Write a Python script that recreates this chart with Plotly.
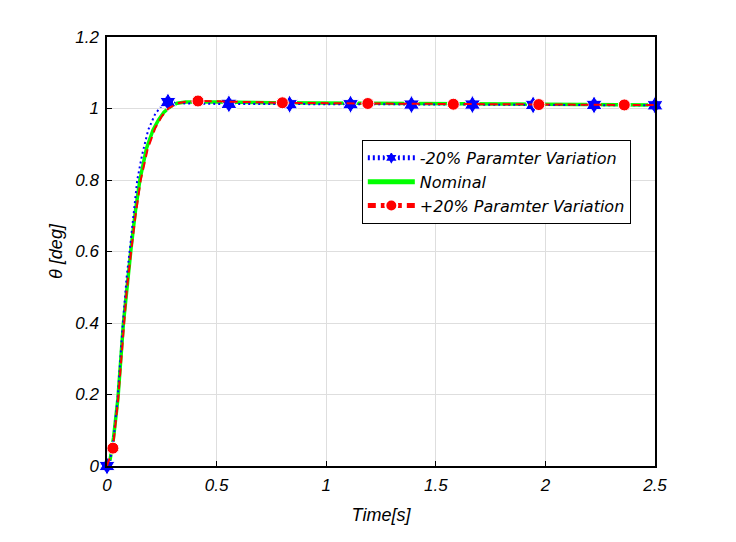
import plotly.graph_objs as go

# -20% parameter variation (blue, dotted, hexagram markers)
t_minus = [0, 0.014, 0.03, 0.05, 0.07, 0.09, 0.105, 0.12, 0.138, 0.16, 0.188, 0.22, 0.25,
           0.278, 0.31, 0.36, 0.45, 0.556, 0.833, 1.111, 1.389, 1.667, 1.944, 2.222, 2.5]
y_minus = [0, 0.015, 0.075, 0.20, 0.38, 0.53, 0.61, 0.69, 0.80, 0.87, 0.94, 0.985, 1.008,
           1.018, 1.016, 1.014, 1.013, 1.013, 1.012, 1.012, 1.011, 1.011, 1.010, 1.010, 1.009]
star_t = [0, 0.278, 0.556, 0.833, 1.111, 1.389, 1.667, 1.944, 2.222, 2.5]

# nominal (green, solid)
t_nom = [0, 0.014, 0.03, 0.05, 0.075, 0.09, 0.11, 0.13, 0.15, 0.18, 0.21, 0.235, 0.26,
         0.29, 0.32, 0.36, 0.42, 0.5, 0.75, 1.0, 1.25, 1.5, 1.75, 2.0, 2.25, 2.5]
y_nom = [0, 0.017, 0.08, 0.19, 0.40, 0.50, 0.61, 0.715, 0.80, 0.888, 0.94, 0.968, 0.99,
         1.006, 1.015, 1.018, 1.019, 1.018, 1.016, 1.015, 1.014, 1.013, 1.012, 1.011, 1.010, 1.010]

# +20% parameter variation (red, dashed, circle markers)
t_plus = [0, 0.027, 0.05, 0.075, 0.09, 0.11, 0.13, 0.154, 0.185, 0.22, 0.25, 0.28, 0.32,
          0.36, 0.415, 0.5, 0.80, 1.19, 1.58, 1.97, 2.36, 2.5]
y_plus = [0, 0.05, 0.18, 0.39, 0.49, 0.60, 0.70, 0.80, 0.885, 0.945, 0.978, 1.000, 1.014,
          1.019, 1.021, 1.020, 1.016, 1.014, 1.012, 1.011, 1.010, 1.010]
circle_t = [0.027, 0.415, 0.80, 1.19, 1.58, 1.97, 2.36]

font_main = dict(family="Liberation Sans, Arial, sans-serif", size=17, color="black", style="italic")
font_title = dict(font_main, size=18)
font_legend = dict(family="DejaVu Sans, sans-serif", size=16, color="black", style="italic")

traces = [
    go.Scatter(
        x=t_nom, y=y_nom, mode="lines", name="Nominal",
        line=dict(color="rgb(0,255,0)", width=3.5),
        cliponaxis=False, legendrank=2,
    ),
    go.Scatter(
        x=t_minus, y=y_minus, mode="lines+markers", name="-20% Paramter Variation",
        line=dict(color="rgb(0,0,255)", width=2, dash="2px,3px"),
        marker=dict(symbol="hexagram", color="rgb(0,0,255)", opacity=1,
                    size=[14 if t in star_t else 0 for t in t_minus]),
        cliponaxis=False, legendrank=1,
    ),
    go.Scatter(
        x=t_plus, y=y_plus, mode="lines+markers", name="+20% Paramter Variation",
        line=dict(color="rgb(255,0,0)", width=2, dash="8px,5px"),
        marker=dict(symbol="circle", color="rgb(255,0,0)", opacity=1,
                    size=[12 if t in circle_t else 0 for t in t_plus]),
        cliponaxis=False, legendrank=3,
    ),
]

axis_common = dict(
    showline=True, linecolor="black", linewidth=1.5, mirror=True,
    ticks="inside", ticklen=5, tickcolor="black",
    showgrid=True, gridcolor="rgb(222,222,222)", gridwidth=1,
    zeroline=False, tickfont=font_main,
)

# the page has an 8px body margin, so margins are shifted by 8px
layout = go.Layout(
    width=736, height=542,
    margin=dict(l=99, r=89, t=29, b=84),
    paper_bgcolor="white", plot_bgcolor="white",
    font=font_main,
    xaxis=dict(axis_common, range=[0, 2.5], dtick=0.5, ticklabelstandoff=3,
               title=dict(text="Time[s]", font=font_title, standoff=14)),
    yaxis=dict(axis_common, range=[0, 1.2], dtick=0.2, ticklabelstandoff=3,
               title=dict(text="θ [deg]", font=font_title, standoff=8)),
    legend=dict(x=0.465, y=0.76, xanchor="left", yanchor="top",
                bgcolor="white", bordercolor="black", borderwidth=1,
                font=font_legend, itemsizing="constant", itemwidth=47,
                traceorder="normal", tracegroupgap=0),
    showlegend=True,
)

fig = go.Figure(data=traces, layout=layout)
fig.write_html("out.html")
